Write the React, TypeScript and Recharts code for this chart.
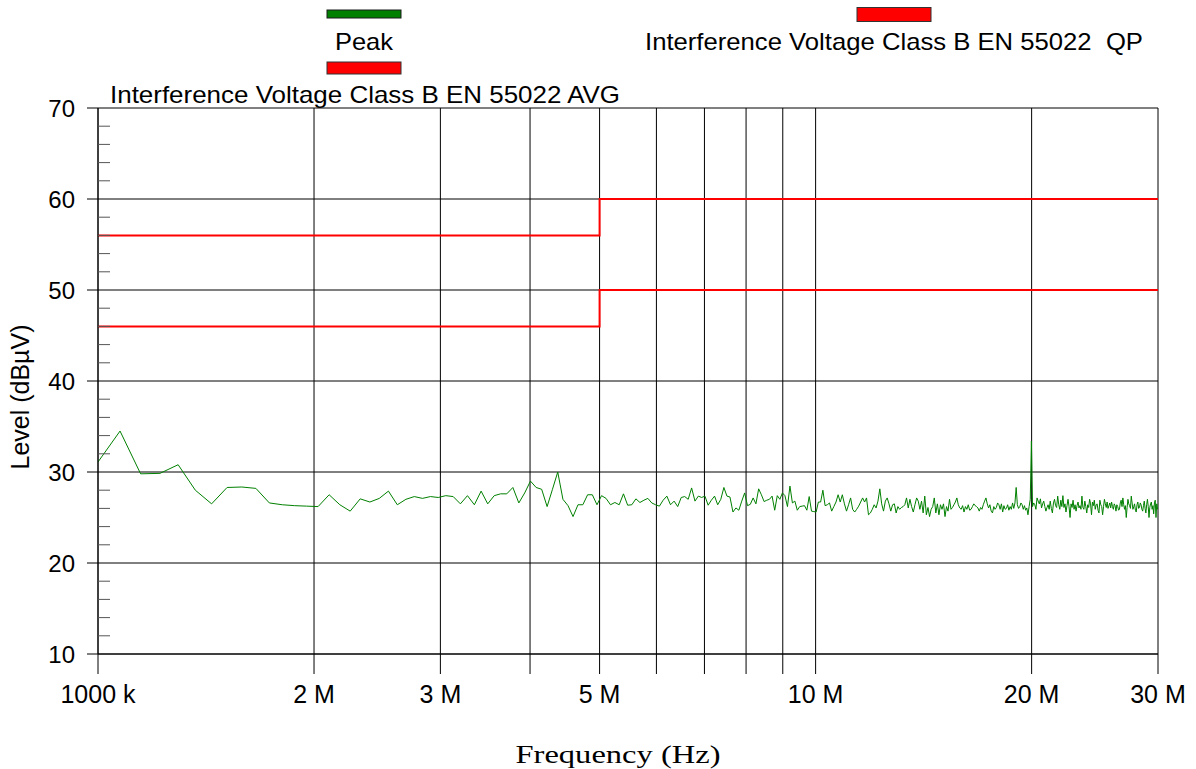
import React from 'react';
import { LineChart, Line, XAxis, YAxis, CartesianGrid } from 'recharts';

const SANS = '"Liberation Sans", Arial, Helvetica, sans-serif';
const SERIF = '"Liberation Serif", "Times New Roman", serif';

// Sweep grid of the receiver (MHz)
const FREQ_START_MHZ = 1;
const FREQ_STEP_MHZ = 0.0733;

// Peak detector levels (dBµV), band by band
const peakLevels1to5MHz = [
  31.1, 34.5, 29.8, 29.85, 30.8, 28.0, 26.5, 28.3, 28.35, 28.2,
  26.6, 26.4, 26.3, 26.25, 26.2, 27.5, 26.4, 25.7, 27.05, 26.7,
  27.1, 27.9, 26.4, 27.0, 27.3, 27.1, 27.3, 27.2, 27.4, 27.3,
  26.5, 27.4, 26.4, 27.9, 26.5, 27.4, 27.6, 27.6, 28.3, 26.6,
  27.7, 29.0, 28.3, 28.1, 26.2, 28.1, 30.0, 27.0, 26.3, 25.1,
  26.4, 26.4, 27.5, 27.5, 26.4,
];
const peakLevels5to10MHz = [
  27.4, 27.1, 26.4, 26.65, 26.4,
  27.6, 26.35, 26.4, 27.05, 26.65, 26.9, 27.1, 26.6, 26.4, 26.25,
  26.9, 27.35, 26.4, 26.8, 26.2, 27.2, 27.3, 27.0, 28.25, 26.8,
  27.35, 27.2, 27.35, 26.35, 26.9, 27.35, 26.4, 27.0, 28.3, 27.35,
  27.25, 25.6, 26.05, 25.8, 26.8, 27.7, 26.3, 26.45, 27.15, 26.5,
  28.15, 27.5, 26.75, 26.9, 27.0, 27.35, 25.8, 27.4, 27.0, 27.7,
  27.4, 26.2, 28.45, 26.6, 26.8, 25.8, 26.2, 26.25, 26.3, 25.8,
  27.3, 25.7, 25.65,
];
const peakLevels10to20MHz = [
  25.6, 26.7, 26.7, 28.0, 26.3, 26.4, 26.6,
  25.7, 26.2, 26.7, 27.5, 26.7, 27.5, 26.5, 25.7, 26.4, 27.15,
  25.9, 25.6, 25.9, 26.25, 26.7, 27.15, 26.7, 27.15, 25.3, 25.5,
  25.9, 26.4, 26.05, 26.8, 28.15, 26.5, 25.7, 26.8, 27.15, 26.5,
  25.7, 26.4, 26.5, 25.5, 26.2, 25.9, 26.1, 26.2, 26.4, 27.15,
  26.05, 27.0, 26.2, 25.6, 26.4, 27.15, 26.8, 25.9, 26.8, 25.5,
  27.35, 25.3, 26.1, 25.1, 25.9, 26.2, 27.15, 25.5, 26.5, 25.3,
  26.4, 25.9, 26.5, 25.1, 26.2, 25.7, 27.0, 25.9, 26.1, 26.4,
  26.7, 27.15, 26.4, 26.05, 25.9, 26.3, 25.6, 26.2, 25.9, 26.4,
  25.8, 25.9, 26.2, 26.5, 26.3, 26.2, 26.05, 25.7, 26.1, 25.9,
  26.4, 26.8, 27.15, 26.5, 26.05, 26.4, 25.7, 25.5, 26.2, 25.9,
  26.1, 26.6, 26.4, 25.9, 26.5, 25.6, 26.3, 25.9, 26.0, 26.4,
  25.8, 26.2, 25.9, 26.6, 26.0, 26.6, 28.3, 26.4, 26.0, 26.2,
  26.6, 26.4, 25.9, 26.3, 25.8, 26.05, 25.3, 26.2, 27.0, 33.4,
];
const peakLevels20to30MHz = [
  26.2, 26.6, 26.4, 25.9, 27.15, 26.8, 26.5, 27.05, 26.05, 26.5,
  26.8, 26.2, 25.7, 26.1, 26.4, 25.9, 26.8, 26.0, 25.5, 26.6,
  27.0, 26.3, 26.1, 27.35, 26.4, 25.9, 26.9, 26.2, 27.4, 26.1,
  26.5, 25.6, 26.3, 27.0, 26.2, 25.0, 26.5, 26.1, 26.9, 25.9,
  26.4, 25.7, 26.3, 26.7, 26.05, 26.3, 25.9, 27.35, 26.1, 25.9,
  26.8, 26.2, 25.5, 26.4, 26.1, 27.0, 26.5, 25.3, 26.7, 26.3,
  26.9, 25.9, 26.4, 26.5, 25.8, 25.5, 26.9, 26.4, 26.2, 25.3,
  26.2, 27.0, 26.5, 26.1, 26.7, 26.0, 26.3, 26.6, 26.05, 26.7,
  26.2, 25.9, 26.5, 26.3, 25.7, 26.4, 26.2, 25.8, 25.9, 26.6,
  26.9, 26.2, 27.15, 26.4, 25.9, 26.3, 25.0, 26.1, 27.0, 26.5,
  26.3, 26.0, 27.35, 26.6, 25.9, 26.2, 26.5, 25.8, 25.6, 26.4,
  26.7, 26.0, 26.1, 26.6, 26.4, 25.9, 25.7, 26.3, 26.8, 26.0,
  25.5, 26.4, 27.0, 26.2, 25.0, 26.1, 26.5, 26.7, 25.9, 26.3,
  25.4, 26.6, 26.9, 25.0, 26.5, 25.9,
];

// Limit lines (EN 55022 class B)
const limitFreqs = [1, 5, 5, 30];
const qpLimit = [56, 56, 60, 60];
const avgLimit = [46, 46, 50, 50];

// Axis ticks
const xTicks = [1, 2, 3, 4, 5, 6, 7, 8, 9, 10, 20, 30];
const xTickLabels = ['1000 k', '2 M', '3 M', '', '5 M', '', '', '', '', '10 M', '20 M', '30 M'];
const yMajorTicks = [10, 20, 30, 40, 50, 60, 70];
const yMinorTicks = [12, 14, 16, 18, 22, 24, 26, 28, 32, 34, 36, 38, 42, 44, 46, 48, 52, 54, 56, 58, 62, 64, 66, 68];

// Legend
const legendNames = ['Peak', 'Interference Voltage Class B EN 55022 AVG', 'Interference Voltage Class B EN 55022  QP'];
const legendColors = ['#008000', '#ff0000', '#ff0000'];

const peakLevels = [...peakLevels1to5MHz, ...peakLevels5to10MHz, ...peakLevels10to20MHz, ...peakLevels20to30MHz];
const peakData = peakLevels.map((v, i) => ({ f: Math.round((FREQ_START_MHZ + i * FREQ_STEP_MHZ) * 10000) / 10000, v }));
const qpData = limitFreqs.map((f, i) => ({ f, v: qpLimit[i] }));
const avgData = limitFreqs.map((f, i) => ({ f, v: avgLimit[i] }));
const yAllTicks = [...yMajorTicks, ...yMinorTicks].sort((a, b) => a - b);

const YTick = (props: any) => {
  const { x, y, payload } = props;
  const v = payload?.value;
  if (yMajorTicks.includes(v)) {
    return (
      <g>
        <line x1={x - 11} x2={x} y1={y} y2={y} stroke="#000" strokeWidth={1} />
        <text x={x - 23} y={y} textAnchor="end" dominantBaseline="central" fontSize={24} fontFamily={SANS} fill="#000">
          {v}
        </text>
      </g>
    );
  }
  return <line x1={x} x2={x + 12} y1={y} y2={y} stroke="#555" strokeWidth={1} />;
};

const renderXTitle = (props: any) => {
  const vb = props.viewBox || { x: 98, y: 654, width: 1060, height: 60 };
  const cx = vb.x + vb.width / 2 - 10;
  const by = vb.y + vb.height + 49;
  return (
    <text x={cx} y={by} textAnchor="middle" fontSize={26} textLength={205} lengthAdjust="spacingAndGlyphs" fontFamily={SERIF} fill="#000">
      Frequency (Hz)
    </text>
  );
};

const renderYTitle = (props: any) => {
  const vb = props.viewBox || { x: 0, y: 108, width: 98, height: 546 };
  const cx = vb.x + 20;
  const cy = vb.y + vb.height / 2 + 16;
  return (
    <text
      x={cx}
      y={cy}
      transform={`rotate(-90 ${cx} ${cy})`}
      textAnchor="middle"
      dominantBaseline="central"
      fontSize={25}
      fontFamily={SANS}
      fill="#000"
    >
      Level (dBµV)
    </text>
  );
};

export default function App() {
  return (
    <div style={{ position: 'absolute', left: 0, top: 0, width: 1196, height: 769, background: '#fff', overflow: 'hidden' }}>
      <LineChart width={1196} height={769} margin={{ top: 108, right: 38, bottom: 55, left: 0 }}>
        <CartesianGrid stroke="#000" strokeWidth={1} horizontalValues={yMajorTicks} />
        <XAxis
          type="number"
          dataKey="f"
          scale="log"
          domain={[1, 30]}
          ticks={xTicks}
          interval={0}
          allowDataOverflow
          height={60}
          tickSize={20}
          tickMargin={11}
          axisLine={{ stroke: '#000' }}
          tickLine={{ stroke: '#000' }}
          tick={{ fontSize: 25, fill: '#000', fontFamily: SANS }}
          tickFormatter={(value: number) => {
            const idx = xTicks.indexOf(value);
            return idx >= 0 ? xTickLabels[idx] : '';
          }}
          label={{ content: renderXTitle }}
        />
        <YAxis
          type="number"
          domain={[10, 70]}
          ticks={yAllTicks}
          interval={0}
          allowDataOverflow
          width={98}
          tickSize={0}
          tickMargin={0}
          axisLine={{ stroke: '#000' }}
          tickLine={false}
          tick={<YTick />}
          label={{ content: renderYTitle }}
        />
        <Line data={avgData} dataKey="v" type="linear" stroke="#ff0000" strokeWidth={2} dot={false} activeDot={false} isAnimationActive={false} />
        <Line data={qpData} dataKey="v" type="linear" stroke="#ff0000" strokeWidth={2} dot={false} activeDot={false} isAnimationActive={false} />
        <Line data={peakData} dataKey="v" type="linear" stroke="#008000" strokeWidth={1} dot={false} activeDot={false} isAnimationActive={false} />
      </LineChart>
      <svg width={1196} height={110} style={{ position: 'absolute', left: 0, top: 0, pointerEvents: 'none' }}>
        <rect x={327} y={10} width={74} height={8} fill={legendColors[0]} stroke="#1a1a1a" strokeWidth={1} />
        <text x={335} y={50} textLength={58} lengthAdjust="spacingAndGlyphs" fontSize={24} fontFamily={SANS} fill="#000">
          {legendNames[0]}
        </text>
        <rect x={327} y={62} width={74} height={12} fill={legendColors[1]} stroke="#333" strokeWidth={1} />
        <text x={110} y={103} textLength={510} lengthAdjust="spacingAndGlyphs" fontSize={24} fontFamily={SANS} fill="#000">
          {legendNames[1]}
        </text>
        <rect x={857} y={7.5} width={74} height={14} fill={legendColors[2]} stroke="#333" strokeWidth={1} />
        <text x={645} y={50} textLength={498} lengthAdjust="spacingAndGlyphs" fontSize={24} fontFamily={SANS} fill="#000" style={{ whiteSpace: 'pre' }}>
          {legendNames[2]}
        </text>
      </svg>
    </div>
  );
}
